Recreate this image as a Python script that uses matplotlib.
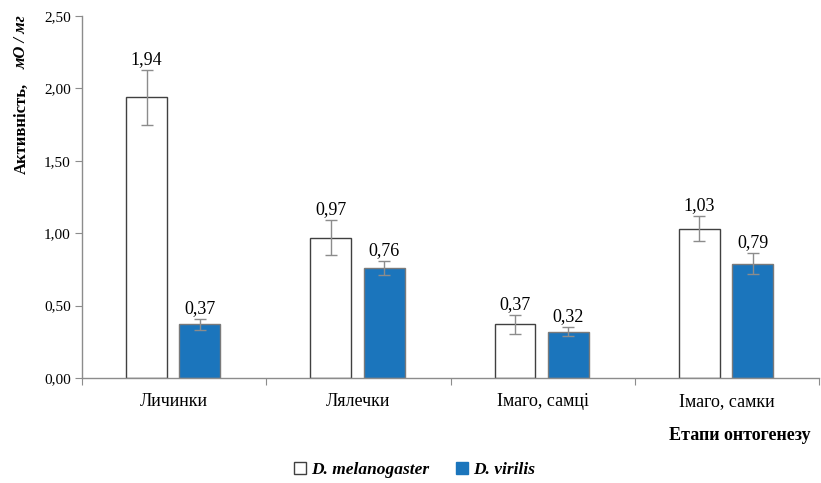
import numpy as np
import matplotlib
matplotlib.use("Agg")
import matplotlib.pyplot as plt
from matplotlib.patches import Patch
from matplotlib.ticker import FuncFormatter, FixedLocator

plt.rcParams['font.family'] = ['Liberation Serif', 'DejaVu Serif']

# data
stages = ['Личинки', 'Лялечки', 'Імаго, самці', 'Імаго, самки']
melanogaster = [1.94, 0.97, 0.37, 1.03]
melanogaster_err = [0.19, 0.12, 0.065, 0.087]
virilis = [0.37, 0.76, 0.32, 0.79]
virilis_err = [0.04, 0.05, 0.03, 0.075]

fig = plt.figure(figsize=(8.21, 4.83), dpi=100)
ax = fig.add_axes([0.0999, 0.2174, 0.8977, 0.7495])

x = np.arange(len(stages))
w = 0.222
blue = '#1b75bc'
grey = '#8c8c8c'

ax.bar(x - 0.15, melanogaster, w, color='white', edgecolor='#404040', linewidth=1.0, zorder=2)
ax.bar(x + 0.14, virilis, w, color=blue, edgecolor='#7a7a7a', linewidth=1.0, zorder=2)
ax.errorbar(x - 0.15, melanogaster, yerr=melanogaster_err, fmt='none', ecolor=grey,
            elinewidth=1.0, capsize=4, capthick=1.0, zorder=3)
ax.errorbar(x + 0.14, virilis, yerr=virilis_err, fmt='none', ecolor=grey,
            elinewidth=1.0, capsize=4, capthick=1.0, zorder=3)

def comma(v):
    return f'{v:.2f}'.replace('.', ',')

for i in range(len(stages)):
    ax.text(x[i] - 0.15, melanogaster[i] + melanogaster_err[i] + 0.012, comma(melanogaster[i]),
            ha='center', va='bottom', fontsize=13)
    ax.text(x[i] + 0.14, virilis[i] + virilis_err[i] + 0.012, comma(virilis[i]),
            ha='center', va='bottom', fontsize=13)

ax.set_xlim(-0.5, len(stages) - 0.5)
ax.set_ylim(0, 2.5)
ax.set_yticks(np.arange(0, 2.51, 0.5))
ax.yaxis.set_major_formatter(FuncFormatter(lambda v, p: comma(v)))

# category boundaries as ticks, names as text on a common baseline
ax.xaxis.set_major_locator(FixedLocator(np.arange(-0.5, len(stages), 1.0)))
ax.xaxis.set_major_formatter(FuncFormatter(lambda v, p: ''))
for i, name in enumerate(stages):
    ax.text(x[i], -0.077, name, transform=ax.get_xaxis_transform(),
            ha='center', va='baseline', fontsize=13)
ax.tick_params(axis='x', which='major', length=5, color=grey, direction='out')
ax.tick_params(axis='y', length=5, color=grey, direction='out', labelsize=11, pad=3)

for s in ['top', 'right']:
    ax.spines[s].set_visible(False)
for s in ['left', 'bottom']:
    ax.spines[s].set_color(grey)
    ax.spines[s].set_linewidth(1.0)

fig.text(0.026, 0.735, 'Активність,', rotation=90, ha='center', va='center',
         fontsize=12, fontweight='bold')
fig.text(0.026, 0.913, 'мО / мг', rotation=90, ha='center', va='center',
         fontsize=12, fontweight='bold', style='italic')

fig.text(0.987, 0.099, 'Етапи онтогенезу', ha='right', va='center',
         fontsize=13, fontweight='bold')

handles = [Patch(facecolor='white', edgecolor='#404040', label='D. melanogaster'),
           Patch(facecolor=blue, edgecolor=blue, label='D. virilis')]
fig.legend(handles=handles, loc='center', bbox_to_anchor=(0.505, 0.027), ncol=2,
           frameon=False, handlelength=0.7, handleheight=0.7, handletextpad=0.3,
           columnspacing=1.5, prop={'weight': 'bold', 'style': 'italic', 'size': 12.5})

fig.savefig('out.png', dpi=100)
